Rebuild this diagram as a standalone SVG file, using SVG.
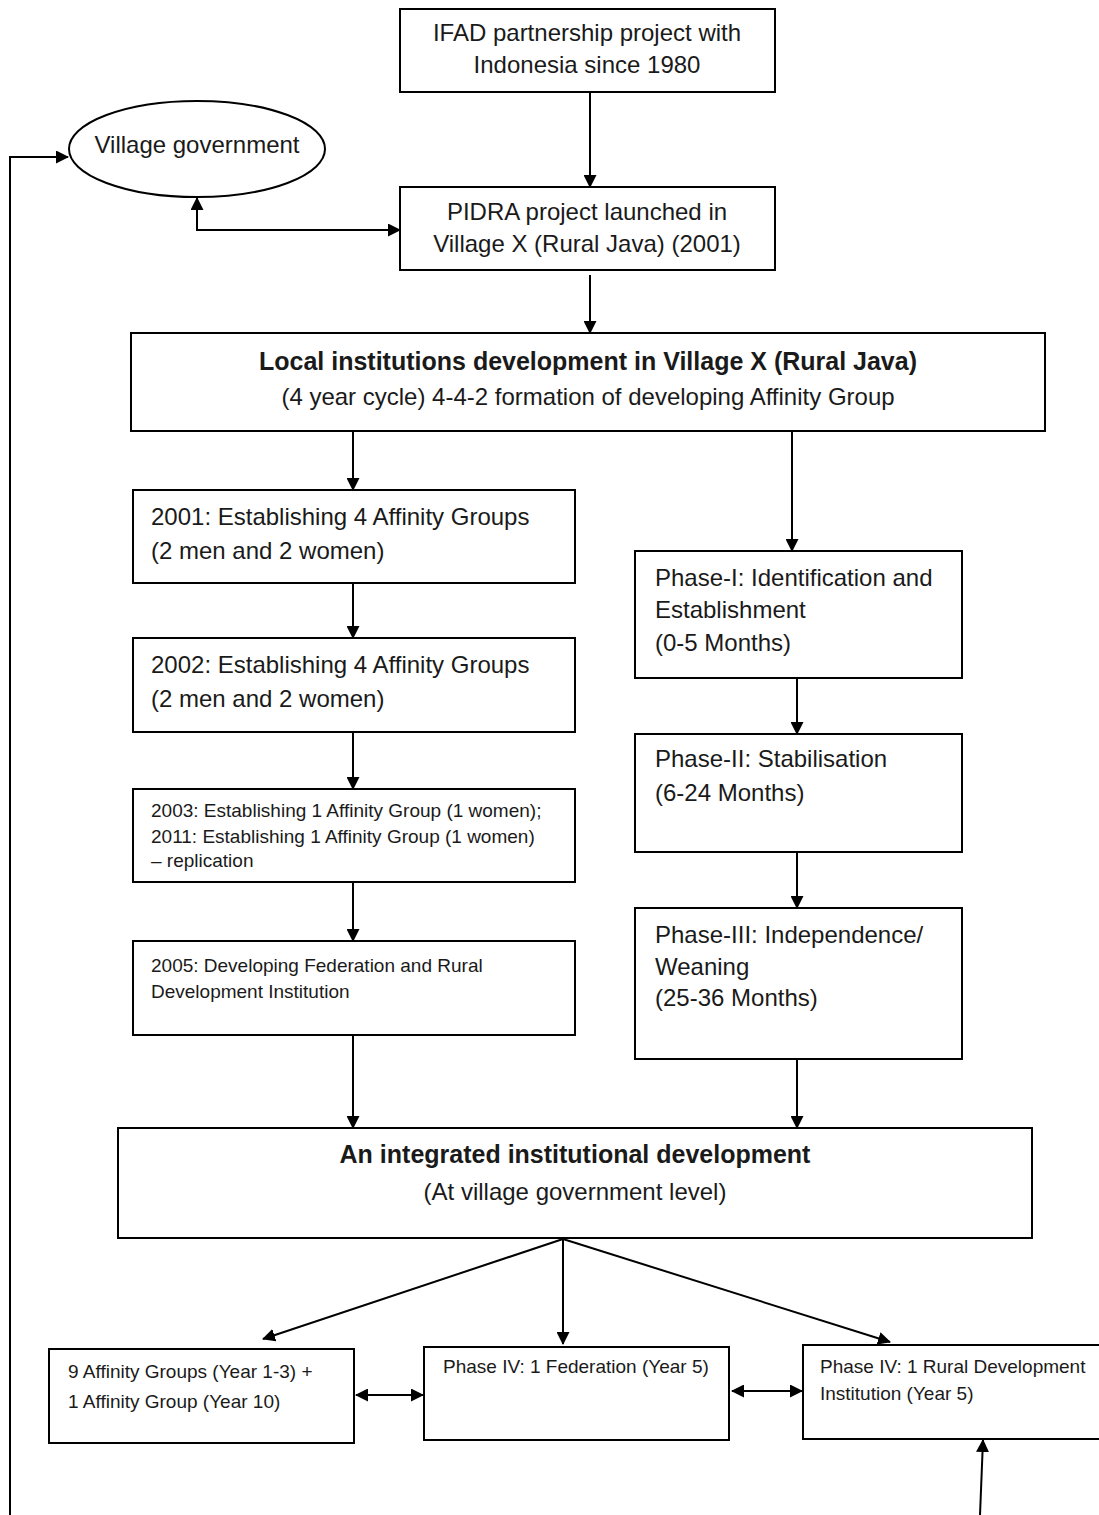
<svg xmlns="http://www.w3.org/2000/svg" width="1099" height="1515" viewBox="0 0 1099 1515">
<defs>
<marker id="ah" markerWidth="13" markerHeight="13" refX="12" refY="6.5" orient="auto-start-reverse" markerUnits="userSpaceOnUse">
<path d="M0,0 L13,6.5 L0,13 Z" fill="#000"/>
</marker>
<style>
.box{fill:#fff;stroke:#000;stroke-width:2}
.t{font-family:"Liberation Sans",Arial,sans-serif;font-size:24px;fill:#1a1a1a}
.c{text-anchor:middle}
.b{font-weight:bold;font-size:25px}
.s{font-size:19px}
.xs{font-size:19px}
.ln{fill:none;stroke:#000;stroke-width:2}
</style>
</defs>
<rect width="1099" height="1515" fill="#fff"/>

<g id="connectors">
<line class="ln" x1="590" y1="92" x2="590" y2="187" marker-end="url(#ah)"/>
<polyline class="ln" points="10,1515 10,157 68,157" marker-end="url(#ah)"/>
<polyline class="ln" points="197,198 197,230 400,230" marker-start="url(#ah)" marker-end="url(#ah)"/>
<line class="ln" x1="590" y1="275" x2="590" y2="333" marker-end="url(#ah)"/>
<line class="ln" x1="353" y1="431" x2="353" y2="490" marker-end="url(#ah)"/>
<line class="ln" x1="792" y1="431" x2="792" y2="551" marker-end="url(#ah)"/>
<line class="ln" x1="353" y1="583" x2="353" y2="638" marker-end="url(#ah)"/>
<line class="ln" x1="353" y1="732" x2="353" y2="789" marker-end="url(#ah)"/>
<line class="ln" x1="353" y1="882" x2="353" y2="941" marker-end="url(#ah)"/>
<line class="ln" x1="353" y1="1035" x2="353" y2="1128" marker-end="url(#ah)"/>
<line class="ln" x1="797" y1="678" x2="797" y2="734" marker-end="url(#ah)"/>
<line class="ln" x1="797" y1="852" x2="797" y2="908" marker-end="url(#ah)"/>
<line class="ln" x1="797" y1="1059" x2="797" y2="1128" marker-end="url(#ah)"/>
<line class="ln" x1="563" y1="1239" x2="263" y2="1339" marker-end="url(#ah)"/>
<line class="ln" x1="563" y1="1239" x2="563" y2="1344" marker-end="url(#ah)"/>
<line class="ln" x1="563" y1="1239" x2="890" y2="1342" marker-end="url(#ah)"/>
<line class="ln" x1="356" y1="1395" x2="423" y2="1395" marker-start="url(#ah)" marker-end="url(#ah)"/>
<line class="ln" x1="732" y1="1391" x2="802" y2="1391" marker-start="url(#ah)" marker-end="url(#ah)"/>
<line class="ln" x1="980" y1="1515" x2="983" y2="1440" marker-end="url(#ah)"/>
</g>

<g id="ifad">
<rect class="box" x="400" y="9" width="375" height="83"/>
<text class="t c" x="587" y="41">IFAD partnership project with</text>
<text class="t c" x="587" y="73">Indonesia since 1980</text>
</g>

<g id="village-gov">
<ellipse class="box" cx="197" cy="149" rx="128" ry="48"/>
<text class="t c" x="197" y="153">Village government</text>
</g>

<g id="pidra">
<rect class="box" x="400" y="187" width="375" height="83"/>
<text class="t c" x="587" y="220">PIDRA project launched in</text>
<text class="t c" x="587" y="252">Village X (Rural Java) (2001)</text>
</g>

<g id="local">
<rect class="box" x="131" y="333" width="914" height="98"/>
<text class="t c b" x="588" y="370">Local institutions development in Village X (Rural Java)</text>
<text class="t c" x="588" y="405">(4 year cycle) 4-4-2 formation of developing Affinity Group</text>
</g>

<g id="y2001">
<rect class="box" x="133" y="490" width="442" height="93"/>
<text class="t" x="151" y="525">2001: Establishing 4 Affinity Groups</text>
<text class="t" x="151" y="559">(2 men and 2 women)</text>
</g>

<g id="y2002">
<rect class="box" x="133" y="638" width="442" height="94"/>
<text class="t" x="151" y="673">2002: Establishing 4 Affinity Groups</text>
<text class="t" x="151" y="707">(2 men and 2 women)</text>
</g>

<g id="y2003">
<rect class="box" x="133" y="789" width="442" height="93"/>
<text class="t s" x="151" y="817">2003: Establishing 1 Affinity Group (1 women);</text>
<text class="t s" x="151" y="843">2011: Establishing 1 Affinity Group (1 women)</text>
<text class="t s" x="151" y="867">– replication</text>
</g>

<g id="y2005">
<rect class="box" x="133" y="941" width="442" height="94"/>
<text class="t s" x="151" y="972">2005: Developing Federation and Rural</text>
<text class="t s" x="151" y="998">Development Institution</text>
</g>

<g id="phase1">
<rect class="box" x="635" y="551" width="327" height="127"/>
<text class="t" x="655" y="586">Phase-I: Identification and</text>
<text class="t" x="655" y="618">Establishment</text>
<text class="t" x="655" y="651">(0-5 Months)</text>
</g>

<g id="phase2">
<rect class="box" x="635" y="734" width="327" height="118"/>
<text class="t" x="655" y="767">Phase-II: Stabilisation</text>
<text class="t" x="655" y="801">(6-24 Months)</text>
</g>

<g id="phase3">
<rect class="box" x="635" y="908" width="327" height="151"/>
<text class="t" x="655" y="943">Phase-III: Independence/</text>
<text class="t" x="655" y="975">Weaning</text>
<text class="t" x="655" y="1006">(25-36 Months)</text>
</g>

<g id="integrated">
<rect class="box" x="118" y="1128" width="914" height="110"/>
<text class="t c b" x="575" y="1163">An integrated institutional development</text>
<text class="t c" x="575" y="1200">(At village government level)</text>
</g>

<g id="affinity">
<rect class="box" x="49" y="1349" width="305" height="94"/>
<text class="t xs" x="68" y="1378">9 Affinity Groups (Year 1-3) +</text>
<text class="t xs" x="68" y="1408">1 Affinity Group (Year 10)</text>
</g>

<g id="federation">
<rect class="box" x="424" y="1347" width="305" height="93"/>
<text class="t xs" x="443" y="1373">Phase IV: 1 Federation (Year 5)</text>
</g>

<g id="rdi">
<rect class="box" x="803" y="1345" width="305" height="94"/>
<text class="t xs" x="820" y="1373">Phase IV: 1 Rural Development</text>
<text class="t xs" x="820" y="1400">Institution (Year 5)</text>
</g>
</svg>
